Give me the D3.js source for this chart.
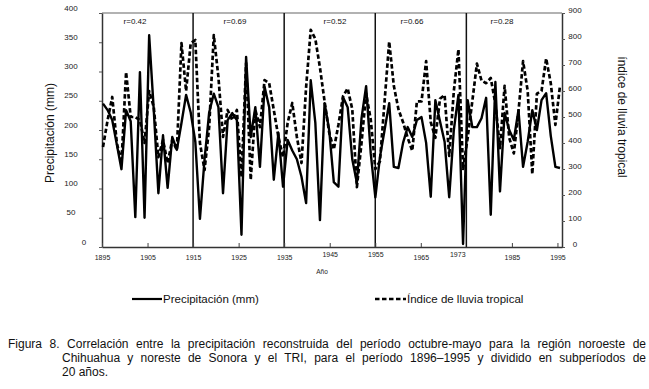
<!DOCTYPE html>
<html lang="es">
<head>
<meta charset="utf-8">
<style>
  body { margin: 0; background: #fff; }
  svg { display: block; font-family: "Liberation Sans", Arial, sans-serif; }
</style>
</head>
<body>
<script src="https://d3js.org/d3.v7.min.js"></script>
<script>

    // años 1896-1995
    const years = d3.range(1896, 1996);

    // precipitación reconstruida (mm), eje izquierdo
    const precip = [
        245, 234, 217, 175, 133, 234, 215, 51, 299, 50,
        362, 234, 92, 191, 101, 188, 166, 212, 260, 230,
        180, 48, 150, 230, 262, 239, 92, 217, 229, 217,
        21, 325, 188, 239, 137, 274, 239, 115, 195, 103,
        183, 165, 150, 120, 75, 285, 212, 46, 246, 200,
        111, 103, 256, 239, 150, 110, 220, 275, 160, 85,
        154, 200, 246, 137, 135, 178, 205, 188, 217, 222,
        178, 86, 251, 215, 180, 85, 200, 260, 5, 251,
        205, 205, 220, 255, 55, 282, 95, 229, 200, 183,
        234, 137, 180, 234, 200, 251, 263, 190, 137, 135
    ];

    // indice de lluvia tropical, eje derecho
    const tri = [
        385, 488, 577, 400, 323, 673, 500, 500, 488, 400,
        600, 538, 346, 411, 323, 411, 373, 784, 600, 784,
        796, 400, 296, 461, 815, 654, 423, 527, 488, 527,
        269, 707, 258, 527, 461, 642, 630, 527, 423, 346,
        477, 554, 423, 323, 615, 835, 800, 690, 560, 440,
        375, 470, 580, 610, 530, 230, 400, 590, 490, 300,
        330, 560, 790, 620, 530, 480, 420, 370, 560, 560,
        715, 480, 420, 570, 585, 350, 600, 760, 300, 420,
        560, 705, 640, 630, 650, 550, 380, 620, 420, 360,
        520, 715, 600, 280, 590, 600, 725, 630, 470, 620
    ];

    const leftTicks = [0, 50, 100, 150, 200, 250, 300, 350, 400];
    const rightTicks = [0, 100, 200, 300, 400, 500, 600, 700, 800, 900];
    const xTickYears = [1895, 1905, 1915, 1925, 1935, 1945, 1955, 1965, 1973, 1985, 1995];
    const dividers = [1915, 1935, 1955, 1975];
    const rLabels = ["r=0.42", "r=0.69", "r=0.52", "r=0.66", "r=0.28"];

    const caption = [
        "Figura 8. Correlación entre la precipitación reconstruida del período octubre-mayo para la región noroeste de",
        "Chihuahua y noreste de Sonora y el TRI, para el período 1896–1995 y dividido en subperíodos de",
        "20 años."
    ];

    const W = 649, H = 389;
    const pLeft = 102, pRight = 562, pTop = 13, pBottom = 247;

    const svg = d3.select("body").append("svg")
        .attr("width", W)
        .attr("height", H);

    // escala del eje (etiquetas) y escala de los puntos
    const xAxisScale = d3.scaleLinear().domain([1895, 1996]).range([pLeft, pRight]);
    const x = d3.scalePoint().domain(years).range([103, 560]);
    const yL = d3.scaleLinear().domain([0, 400]).range([pBottom, pTop]);
    const yR = d3.scaleLinear().domain([0, 900]).range([pBottom, pTop]);

    // borde superior
    svg.append("line")
        .attr("x1", pLeft).attr("x2", pRight)
        .attr("y1", pTop).attr("y2", pTop)
        .attr("stroke", "#666").attr("stroke-width", 1.2);

    // lineas divisorias de subperiodos
    svg.selectAll(".div")
        .data(dividers)
        .enter()
        .append("line")
        .attr("x1", d => xAxisScale(d)).attr("x2", d => xAxisScale(d))
        .attr("y1", pTop).attr("y2", pBottom)
        .attr("stroke", "#111").attr("stroke-width", 1.5);

    // eje izquierdo
    const yAxisL = svg.append("g")
        .attr("transform", "translate(" + pLeft + ",0)")
        .call(d3.axisLeft(yL).tickValues(leftTicks).tickSizeInner(3).tickSizeOuter(0));
    yAxisL.select(".domain").attr("stroke", "#333").attr("stroke-width", 1.5);
    yAxisL.selectAll(".tick line").attr("stroke", "#555");
    yAxisL.selectAll("text")
        .attr("x", d => d === 0 ? -18 : -31)
        .attr("dy", "-0.35em")
        .attr("text-anchor", "middle")
        .attr("fill", "#222")
        .style("font-size", "8px");

    // eje derecho
    const yAxisR = svg.append("g")
        .attr("transform", "translate(" + pRight + ",0)")
        .call(d3.axisRight(yR).tickValues(rightTicks).tickSizeInner(3).tickSizeOuter(0));
    yAxisR.select(".domain").attr("stroke", "#333").attr("stroke-width", 1.5);
    yAxisR.selectAll(".tick line").attr("stroke", "#555");
    yAxisR.selectAll("text")
        .attr("x", 13)
        .attr("dy", "-0.1em")
        .attr("text-anchor", "middle")
        .attr("fill", "#222")
        .style("font-size", "8px");

    // eje x
    const raised = ["1945", "1955", "1973"];
    const xAxis = svg.append("g")
        .attr("transform", "translate(0," + pBottom + ")")
        .call(d3.axisBottom(xAxisScale).tickValues(xTickYears)
            .tickFormat(d3.format("d")).tickSizeInner(-4).tickSizeOuter(0));
    xAxis.select(".domain").attr("stroke", "#333").attr("stroke-width", 1.5);
    xAxis.selectAll(".tick line").attr("stroke", "#444")
        .attr("opacity", d => d === 1973 ? 0 : 1);
    xAxis.selectAll("text")
        .attr("y", d => raised.includes(String(d)) ? 5 : 8)
        .attr("fill", "#222")
        .style("font-size", "7px");

    svg.append("text")
        .attr("x", 322).attr("y", 274)
        .attr("text-anchor", "middle")
        .style("font-size", "6.5px")
        .attr("fill", "#222")
        .text("Año");

    // series
    const lineTri = d3.line()
        .x((d, i) => x(years[i]))
        .y(d => yR(d));
    const linePrecip = d3.line()
        .x((d, i) => x(years[i]))
        .y(d => yL(d));

    svg.append("path")
        .datum(tri)
        .attr("d", lineTri)
        .attr("fill", "none")
        .attr("stroke", "#000")
        .attr("stroke-width", 2.7)
        .attr("stroke-dasharray", "4.5,2.5")
        .attr("stroke-linejoin", "round");

    svg.append("path")
        .datum(precip)
        .attr("d", linePrecip)
        .attr("fill", "none")
        .attr("stroke", "#000")
        .attr("stroke-width", 2.4)
        .attr("stroke-linejoin", "round");

    // coeficientes r
    const rLabelX = [135, 235, 335, 412, 502];
    svg.selectAll(".rlab")
        .data(rLabels)
        .enter()
        .append("text")
        .attr("x", (d, i) => rLabelX[i])
        .attr("y", 24)
        .attr("text-anchor", "middle")
        .style("font-size", "8px")
        .attr("fill", "#111")
        .text(d => d);

    // titulos de ejes
    svg.append("text")
        .attr("transform", "translate(54,133) rotate(-90)")
        .attr("text-anchor", "middle")
        .style("font-size", "12px")
        .attr("fill", "#111")
        .text("Precipitación (mm)");

    svg.append("text")
        .attr("transform", "translate(618,117) rotate(90)")
        .attr("text-anchor", "middle")
        .style("font-size", "12px")
        .attr("fill", "#111")
        .text("índice de lluvia tropical");

    // leyenda
    const legend = svg.append("g");
    legend.append("line")
        .attr("x1", 132).attr("x2", 162).attr("y1", 299).attr("y2", 299)
        .attr("stroke", "#000").attr("stroke-width", 2.2);
    legend.append("text")
        .attr("x", 163).attr("y", 303)
        .style("font-size", "11.5px")
        .attr("fill", "#111")
        .text("Precipitación (mm)");
    legend.append("line")
        .attr("x1", 375).attr("x2", 406).attr("y1", 299).attr("y2", 299)
        .attr("stroke", "#000").attr("stroke-width", 2.6)
        .attr("stroke-dasharray", "4.5,2.5");
    legend.append("text")
        .attr("x", 407).attr("y", 303)
        .style("font-size", "11.5px")
        .attr("fill", "#111")
        .text("Índice de lluvia tropical");

    // pie de figura, justificado
    const capX = [8, 62, 62];
    const capEnd = 646;
    caption.forEach(function (t, i) {
        const el = svg.append("text")
            .attr("x", capX[i])
            .attr("y", 348 + i * 14)
            .style("font-size", "12px")
            .attr("fill", "#111")
            .text(t);
        if (i < caption.length - 1) {
            const len = el.node().getComputedTextLength();
            const spaces = t.split(" ").length - 1;
            el.attr("word-spacing", (capEnd - capX[i] - len) / spaces);
        }
    });

</script>
</body>
</html>
